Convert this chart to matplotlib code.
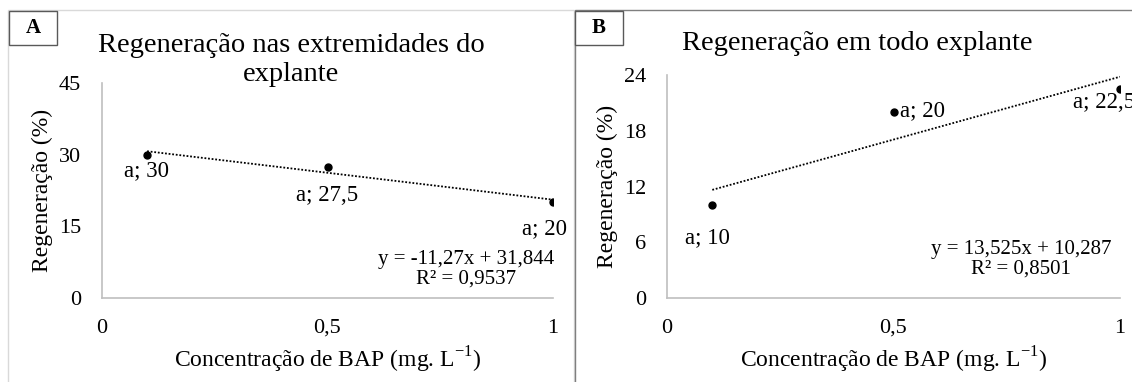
import matplotlib.pyplot as plt
from matplotlib.patches import Rectangle
import numpy as np

plt.rcParams['font.family'] = ['Liberation Serif', 'DejaVu Serif']
plt.rcParams['mathtext.fontset'] = 'custom'
plt.rcParams['mathtext.rm'] = 'Liberation Serif'

# dados
conc = [0.1, 0.5, 1.0]
reg_ext = [30, 27.5, 20]
reg_todo = [10, 20, 22.5]
lab_ext = ['a; 30', 'a; 27,5', 'a; 20']
lab_todo = ['a; 10', 'a; 20', 'a; 22,5']
fit_ext = (-11.27, 31.844)
fit_todo = (13.525, 10.287)
eq_ext = 'y = -11,27x + 31,844\nR² = 0,9537'
eq_todo = 'y = 13,525x + 10,287\nR² = 0,8501'
xticks = [0, 0.5, 1]
xticklabels = ['0', '0,5', '1']
yticks_ext = [0, 15, 30, 45]
yticks_todo = [0, 6, 12, 18, 24]
title_ext = 'Regeneração nas extremidades do\nexplante'
title_todo = 'Regeneração em todo explante'
xlabel = 'Concentração de BAP (mg. L$^{\\mathrm{-1}}$)'
ylabel = 'Regeneração (%)'

W, H = 1132, 382
fig = plt.figure(figsize=(W / 100, H / 100), dpi=100)


def px_axes(l, t, r, b):
    return fig.add_axes([l / W, 1 - b / H, (r - l) / W, (b - t) / H])


def fx(x):
    return x / W


def fy(y):
    return 1 - y / H


# molduras dos paineis
fig.add_artist(Rectangle((fx(8), -0.1), fx(574 - 8), fy(10) + 0.1, transform=fig.transFigure,
                         fill=False, ec='#d9d9d9', lw=1))
fig.add_artist(Rectangle((fx(575), -0.1), 0.6, fy(10) + 0.1, transform=fig.transFigure,
                         fill=False, ec='#7f7f7f', lw=1))


def panel(ax, y, labels, fit, eq, yticks, offsets, eq_pos, title, title_pos, letter, letter_x):
    ax.plot(conc, y, 'o', color='black', ms=5, zorder=3)
    xf = np.array([conc[0], conc[-1]])
    ax.plot(xf, fit[0] * xf + fit[1], color='black', lw=1.3, ls=(0, (1, 1)))
    for xv, yv, lab, (dx, dy, ha) in zip(conc, y, labels, offsets):
        ax.annotate(lab, (xv, yv), xytext=(dx, dy), textcoords='offset pixels',
                    ha=ha, va='center', fontsize=16.5, annotation_clip=False)
    ax.set_xlim(0, 1)
    ax.set_ylim(yticks[0], yticks[-1])
    ax.set_xticks(xticks)
    ax.set_xticklabels(xticklabels)
    ax.set_yticks(yticks)
    ax.tick_params(length=0, labelsize=16, pad=15)
    for s in ['top', 'right']:
        ax.spines[s].set_visible(False)
    for s in ['left', 'bottom']:
        ax.spines[s].set_color('#bfbfbf')
        ax.spines[s].set_linewidth(1.2)
    ax.set_xlabel(xlabel, fontsize=17, labelpad=5)
    ax.set_ylabel(ylabel, fontsize=17, labelpad=4)
    fig.text(fx(eq_pos[0]), fy(eq_pos[1]), eq, ha='center', va='center', fontsize=15,
             linespacing=1.05)
    fig.text(fx(title_pos[0]), fy(title_pos[1]), title, ha='center', va='center',
             fontsize=20.5, linespacing=1.25)
    fig.add_artist(Rectangle((fx(letter_x), fy(45)), fx(48), fy(11) - fy(45), transform=fig.transFigure,
                             fc='white', ec='#595959', lw=1))
    fig.text(fx(letter_x + 24), fy(28), letter, ha='center', va='center', fontsize=15,
             fontweight='bold')


ax1 = px_axes(102, 83, 553, 298)
panel(ax1, reg_ext, lab_ext, fit_ext, eq_ext, yticks_ext,
      [(-1, -16, 'center'), (0, -29, 'center'), (-8, -26, 'center')],
      (466, 269), title_ext, (291, 60), 'A', 9)

ax2 = px_axes(667, 75, 1120, 298)
panel(ax2, reg_todo, lab_todo, fit_todo, eq_todo, yticks_todo,
      [(-5, -33, 'center'), (7, 2, 'left'), (-16, -14, 'center')],
      (1021, 259), title_todo, (857, 43), 'B', 575)

fig.savefig('out.png', dpi=100)
